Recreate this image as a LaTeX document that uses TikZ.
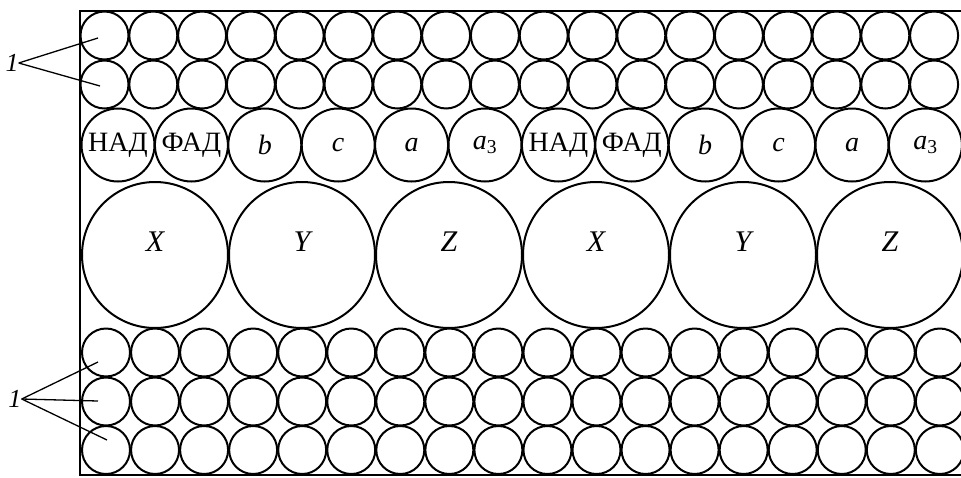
\documentclass[tikz,border=0pt]{standalone}
\usepackage{fontspec}
\setmainfont{Liberation Serif}
\usetikzlibrary{positioning,calc}
\tikzset{
  small/.style={circle, draw, line width=2pt, minimum size=48pt, inner sep=0pt},
  mid/.style  ={circle, draw, line width=2pt, minimum size=73pt, inner sep=0pt,
                font=\fontsize{28}{28}\selectfont},
  big/.style  ={circle, draw, line width=2pt, minimum size=146pt, inner sep=0pt,
                text depth=26pt, font=\fontsize{30}{30}\selectfont\itshape},
  tag/.style  ={inner sep=0pt, font=\fontsize{26}{26}\selectfont\itshape},
  lead/.style ={line width=1.3pt},
  frame/.style={line width=2.6pt},
}
\begin{document}
\begin{tikzpicture}[x=1pt,y=-1pt]
\clip (0,0) rectangle (961,477);

% top rows of small circles
\foreach \r/\y in {1/35.5,2/84.5}
  \foreach \k in {0,...,17}
    \node[small] (t\r-\k) at ({104.5+48.8*\k},\y) {};

% carriers
\foreach \lab [count=\k from 0] in {НАД,ФАД,\textit{b},\textit{c},\textit{a},{\textit{a}\textsubscript{3}},
                                   НАД,ФАД,\textit{b},\textit{c},\textit{a},{\textit{a}\textsubscript{3}}}
  \node[mid] (m\k) at ({118+73.4*\k},145) {\lab};

% large circles
\foreach \lab [count=\k from 0] in {X,Y,Z,X,Y,Z}
  \node[big] (g\k) at ({155+147*\k},255) {\lab};

% bottom rows of small circles
\foreach \r/\y in {1/352.5,2/401.5,3/450}
  \foreach \k in {0,...,17}
    \node[small] (b\r-\k) at ({106+49.05*\k},\y) {};

% frame, open on the right
\draw[frame] (965,11) -- (80,11) -- (80,475) -- (965,475);

% leaders
\node[tag] (tagT) at (12,63) {1};
\node[tag] (tagB) at (15,399) {1};
\coordinate (pT1) at ($(t1-0)+(-6.5,2.5)$);
\coordinate (pT2) at ($(t2-0)+(-4.5,1.5)$);
\coordinate (pB1) at ($(b1-0)+(-8,9.5)$);
\coordinate (pB2) at ($(b2-0)+(-8,-0.5)$);
\coordinate (pB3) at ($(b3-0)+(1,-10)$);
\foreach \p in {pT1,pT2} \draw[lead] (tagT.east) -- (\p);
\foreach \p in {pB1,pB2,pB3} \draw[lead] (tagB.east) -- (\p);
\end{tikzpicture}
\end{document}
